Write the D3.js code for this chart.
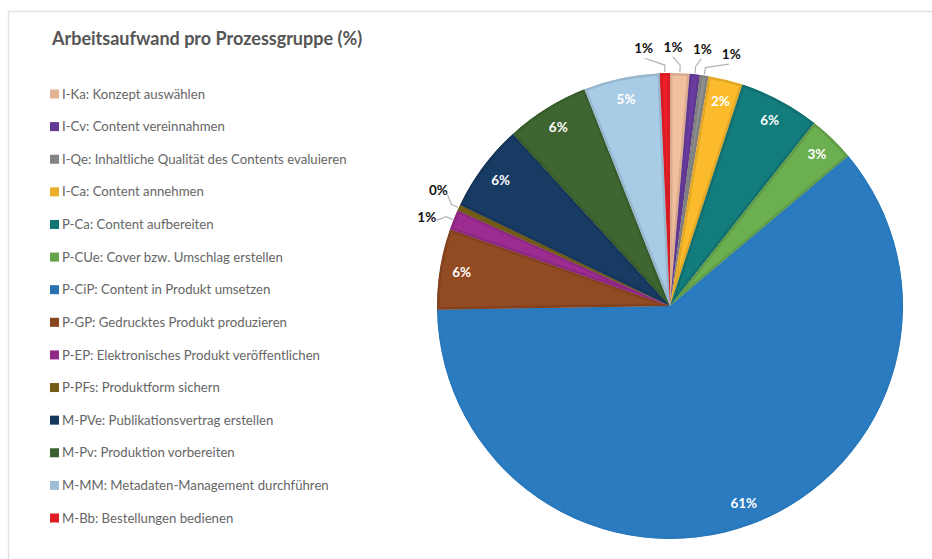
<!DOCTYPE html>
<meta charset="utf-8">
<style>
body{margin:0;background:#fff;}
text{font-family:Lato,"Open Sans",sans-serif;}
.title{font-size:18px;font-weight:bold;fill:#555;}
.legend text{font-size:13.2px;fill:#666;}
.lbl{font-size:13.5px;font-weight:bold;}
</style>
<body>
<div id="chart"></div>
<script src="https://cdn.jsdelivr.net/npm/d3@7"></script>
<script>
// Arbeitsaufwand pro Prozessgruppe, Anteile in %
var codes = ["I-Ka","I-Cv","I-Qe","I-Ca","P-Ca","P-CUe","P-CiP","P-GP","P-EP","P-PFs","M-PVe","M-Pv","M-MM","M-Bb"];
var names = ["Konzept auswählen","Content vereinnahmen","Inhaltliche Qualität des Contents evaluieren","Content annehmen",
	"Content aufbereiten","Cover bzw. Umschlag erstellen","Content in Produkt umsetzen","Gedrucktes Produkt produzieren",
	"Elektronisches Produkt veröffentlichen","Produktform sichern","Publikationsvertrag erstellen","Produktion vorbereiten",
	"Metadaten-Management durchführen","Bestellungen bedienen"];
var shares = [1.35, 0.7, 0.6, 2.4, 5.6, 3.25, 61.0, 5.6, 1.4, 0.4, 6.1, 5.8, 5.3, 0.7];
var colors = ["#f2bf9f","#6a3ca0","#8e8e8e","#fbbb2d","#137c7c","#6caf50","#2a7bbf","#924a22",
	"#9c2c90","#7e6319","#183b64","#3f6631","#a9cce6","#ee1f26"];

var width = 932, height = 559;
var cx = 670, cy = 306, radius = 233;

var data = codes.map(function(c, i){ return {code: c, name: names[i], value: shares[i], color: colors[i]}; });
var total = d3.sum(shares);
function pct(d){ return Math.round(d.value / total * 100); }

var svg = d3.select("#chart").append("svg").attr("width", width).attr("height", height);

// Rahmen
svg.append("path").attr("d", "M8.5," + height + "V11.5H" + width)
	.attr("fill", "none").attr("stroke", "#e3e3e3").attr("stroke-width", 1.5);

svg.append("text").attr("class", "title").attr("x", 52).attr("y", 45)
	.text("Arbeitsaufwand pro Prozessgruppe (%)");

// Legende
var ly = d3.scalePoint().domain(codes).range([94, 518]);
var leg = svg.append("g").attr("class", "legend").selectAll("g")
	.data(data).enter().append("g")
	.attr("transform", function(d){ return "translate(50," + ly(d.code) + ")"; });
leg.append("rect").attr("x", 0).attr("y", -4.5).attr("width", 9).attr("height", 9)
	.attr("fill", function(d){ return d3.color(d.color).darker(0.2); });
leg.append("text").attr("x", 12).attr("dy", "0.35em")
	.text(function(d){ return d.code + ": " + d.name; });

// Kreis
var pie = d3.pie().sort(null).value(function(d){ return d.value; });
var arcs = pie(data);
var arc = d3.arc().innerRadius(0).outerRadius(radius);

var g = svg.append("g").attr("transform", "translate(" + cx + "," + cy + ")");
var defs = svg.append("defs");
defs.selectAll("clipPath").data(arcs).enter().append("clipPath")
	.attr("id", function(d, i){ return "clip" + i; })
	.append("path").attr("d", arc);

g.selectAll(".slice").data(arcs).enter().append("path")
	.attr("class", "slice")
	.attr("d", arc)
	.attr("clip-path", function(d, i){ return "url(#clip" + i + ")"; })
	.attr("fill", function(d){ return d.data.color; })
	.attr("stroke", function(d){ return d3.color(d.data.color).darker(d.data.value > 50 ? 0.05 : 0.3); })
	.attr("stroke-width", 5)
	.attr("stroke-linejoin", "round");

// Beschriftung innen
var inner = arcs.filter(function(d){ return pct(d.data) >= 2; });
var labelArc = d3.arc().innerRadius(211).outerRadius(211);
g.selectAll(".lbl-in").data(inner).enter().append("text")
	.attr("class", "lbl")
	.attr("transform", function(d){ return "translate(" + labelArc.centroid(d) + ")"; })
	.attr("text-anchor", "middle").attr("dy", "0.35em")
	.attr("fill", "#fff")
	.text(function(d){ return pct(d.data) + "%"; });

// Beschriftung aussen, kleine Segmente auseinanderschieben
var outer = arcs.filter(function(d){ return pct(d.data) < 2; }).map(function(d){
	var a = (d.startAngle + d.endAngle) / 2;
	if (a > Math.PI) a -= 2 * Math.PI;
	return {arc: d, mid: a, a: a};
});
outer.sort(function(p, q){ return p.a - q.a; });
var minSep = 6.5 * Math.PI / 180;
for (var it = 0; it < 100; it++) {
	for (var k = 1; k < outer.length; k++) {
		var gap = outer[k].a - outer[k-1].a;
		if (gap < minSep) {
			var push = (minSep - gap) / 2;
			outer[k].a += push;
			outer[k-1].a -= push;
		}
	}
}
function pt(a, r){ return [r * Math.sin(a), -r * Math.cos(a)]; }

g.selectAll(".leader").data(outer).enter().append("polyline")
	.attr("class", "leader")
	.attr("fill", "none").attr("stroke", "#b3b3b3").attr("stroke-width", 1.2)
	.attr("points", function(p){
		return [pt(p.a, 249), pt(p.mid, radius + 8), pt(p.mid, radius + 1)].join(" ");
	});

g.selectAll(".lbl-out").data(outer).enter().append("text")
	.attr("class", "lbl")
	.attr("transform", function(p){ return "translate(" + pt(p.a, 259) + ")"; })
	.attr("text-anchor", "middle").attr("dy", "0.35em")
	.attr("fill", "#111")
	.text(function(p){ return pct(p.arc.data) + "%"; });
</script>
</body>
